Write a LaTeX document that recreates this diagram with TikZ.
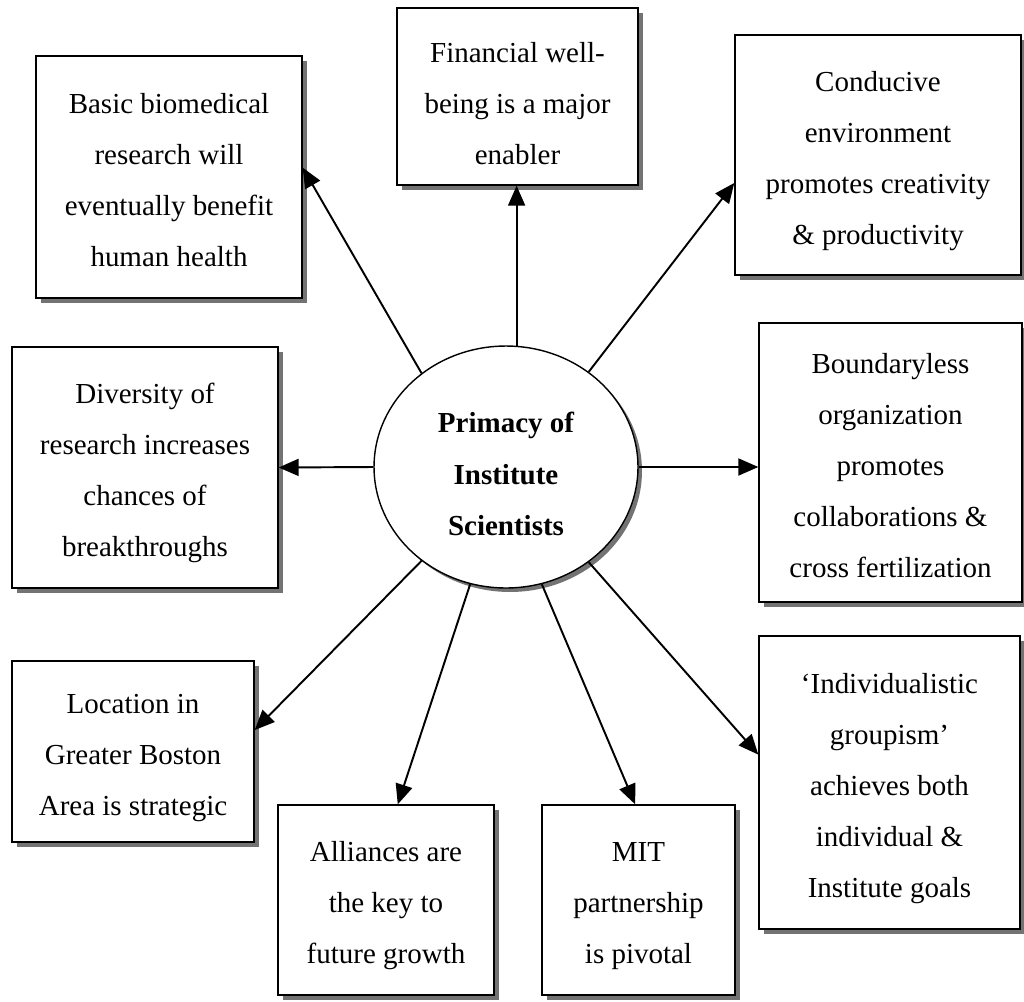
\documentclass[tikz,border=0pt]{standalone}
\usepackage{fontspec}
\setmainfont{Liberation Serif}
\usetikzlibrary{shapes,arrows.meta,shadows}
\newcommand{\upstrut}[1][20.5pt]{\rule{0pt}{#1}}% first line
\newcommand{\dnstrut}{\rule[-6pt]{0pt}{6pt}}% last line
\tikzset{
  idea/.style = {rectangle, draw=black, thick, fill=white, align=center,
    font=\fontsize{16.5}{29}\selectfont, inner sep=0pt,
    drop shadow={shadow xshift=0.1cm, shadow yshift=-0.1cm, fill=black!55, opacity=1}},% boxes round the hub
  hub/.style = {ellipse, draw=black, thick, fill=white, align=center,
    font=\fontsize{16.5}{29.5}\selectfont\bfseries, inner sep=0pt,
    minimum width=5.28cm, minimum height=4.84cm,
    drop shadow={shadow xshift=0.08cm, shadow yshift=-0.08cm, fill=black!55, opacity=1}},% centre ellipse
  link/.style = {->, line width=1.1pt},
}
\begin{document}
\begin{tikzpicture}[x=0.02cm, y=-0.02cm, >={Triangle[length=0.4cm,width=0.34cm]}]
  \useasboundingbox (0,0) rectangle (1024,1001);
  % centre
  \node[hub] (hub) at (506,467) {\upstrut[25.5pt]Primacy of\\Institute\\Scientists\dnstrut};
  % top row
  \node[idea, minimum width=5.32cm, minimum height=4.84cm] (bio) at (169,177)
    {\upstrut Basic biomedical\\research will\\eventually benefit\\human health\dnstrut};
  \node[idea, minimum width=4.82cm, minimum height=3.54cm] (fin) at (517.5,96.5)
    {\upstrut[25.5pt]Financial well-\\being is a major\\enabler\dnstrut};
  \node[idea, minimum width=5.72cm, minimum height=4.8cm] (cond) at (878,155)
    {\upstrut Conducive\\environment\\promotes creativity\\\& productivity\dnstrut};
  % middle row
  \node[idea, minimum width=5.32cm, minimum height=4.82cm] (div) at (145,467.5)
    {\upstrut Diversity of\\research increases\\chances of\\breakthroughs\dnstrut};
  \node[idea, minimum width=5.26cm, minimum height=5.58cm] (bound) at (890.5,462.5)
    {\upstrut Boundaryless\\organization\\promotes\\collaborations \&\\cross fertilization\dnstrut};
  % bottom row
  \node[idea, minimum width=4.84cm, minimum height=3.62cm] (loc) at (133,751.5)
    {\upstrut Location in\\Greater Boston\\Area is strategic\dnstrut};
  \node[idea, minimum width=4.32cm, minimum height=3.8cm] (all) at (386,900)
    {\upstrut Alliances are\\the key to\\future growth\dnstrut};
  \node[idea, minimum width=3.86cm, minimum height=3.8cm] (mit) at (638.5,900)
    {\upstrut MIT\\partnership\\is pivotal\dnstrut};
  \node[idea, minimum width=5.22cm, minimum height=5.86cm] (ind) at (889.5,782.5)
    {\upstrut ‘Individualistic\\groupism’\\achieves both\\individual \&\\Institute goals\dnstrut};
  % spokes
  \draw[link] (hub.85) -- (hub.85 |- fin.south);
  \draw[link] (hub.132) -- (bio.4);
  \draw[link] (hub.49) -- (cond.191);
  \draw[link] (hub.west) -- (div.east);
  \draw[link] (hub.east) -- (hub.east -| bound.west);
  \draw[link] (hub.228) -- (loc.10);
  \draw[link] (hub.253) -- (all.83);
  \draw[link] (hub.287) -- (mit.92);
  \draw[link] (hub.311) -- (ind.168);
\end{tikzpicture}
\end{document}
